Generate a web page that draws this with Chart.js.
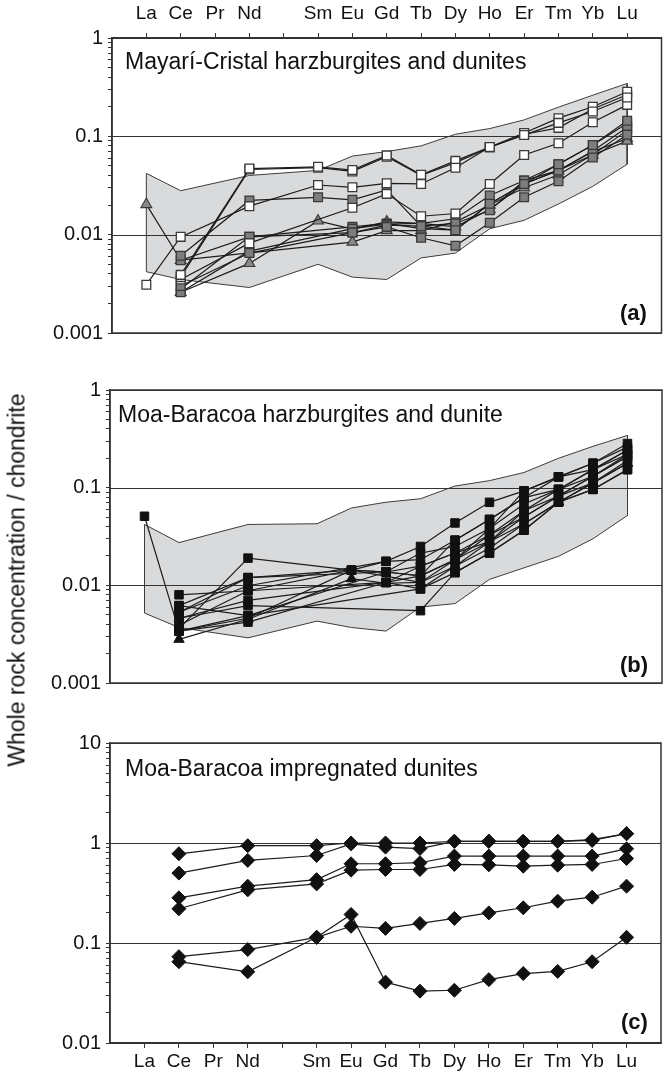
<!DOCTYPE html>
<html><head><meta charset="utf-8">
<script src="https://cdn.jsdelivr.net/npm/chart.js@4.4.1/dist/chart.umd.min.js"></script>
<style>
html,body{margin:0;padding:0;background:#fff;}
body{width:669px;height:1073px;position:relative;overflow:hidden;font-family:"Liberation Sans",Arial,sans-serif;color:#111;}
canvas{position:absolute;left:0;}
.ttl{position:absolute;font-size:23px;line-height:1;white-space:nowrap;}
.lab{position:absolute;font-size:22px;font-weight:bold;line-height:1;white-space:nowrap;}
#ytitle{position:absolute;left:17px;top:580px;font-size:23px;line-height:1;white-space:nowrap;transform:translate(-50%,-50%) rotate(-90deg);}
</style></head>
<body>
<canvas id="ca" width="669" height="350" style="top:0px"></canvas>
<canvas id="cb" width="669" height="330" style="top:370px"></canvas>
<canvas id="cc" width="669" height="353" style="top:720px"></canvas>
<div class="ttl" style="left:125px;top:50px">Mayarí-Cristal harzburgites and dunites</div>
<div class="ttl" style="left:118px;top:403px">Moa-Baracoa harzburgites and dunite</div>
<div class="ttl" style="left:125px;top:757px">Moa-Baracoa impregnated dunites</div>
<div class="lab" style="left:620px;top:302px">(a)</div>
<div class="lab" style="left:620px;top:654px">(b)</div>
<div class="lab" style="left:621px;top:1011px">(c)</div>
<div id="ytitle">Whole rock concentration / chondrite</div>
<script>
// ---- categories / tick labels ----
const ELEMENTS = ['La','Ce','Pr','Nd','Pm','Sm','Eu','Gd','Tb','Dy','Ho','Er','Tm','Yb','Lu'];
const X_TICK_LABELS = ['La','Ce','Pr','Nd','','Sm','Eu','Gd','Tb','Dy','Ho','Er','Tm','Yb','Lu'];
const Y_RANGE_AB = [0.001, 1];
const Y_RANGE_C = [0.01, 10];

// ---- panel (a) Mayarí-Cristal ----
const A_ENV_UPPER = [0.042,0.028,null,0.040,null,0.045,0.063,0.070,0.080,0.105,0.120,0.147,0.198,0.262,0.345];
const A_ENV_LOWER = [0.0042,0.0035,null,0.0029,null,0.0050,0.0037,0.0035,0.0058,0.0065,0.0115,0.0140,0.0205,0.031,0.052];
const A_WHITE_1 = [0.0031,0.0095,null,0.0195,null,0.032,0.0303,0.0333,0.0328,0.048,0.078,0.103,0.137,0.179,0.248];
const A_WHITE_2 = [null,0.0039,null,0.047,null,0.049,0.0454,0.064,0.0407,0.0563,0.078,0.108,0.153,0.200,0.284];
const A_WHITE_3 = [null,0.0037,null,0.046,null,0.048,0.044,0.062,0.040,0.054,0.077,0.105,0.122,0.190,0.265];
const A_WHITE_4 = [null,0.0035,null,0.0082,null,null,0.0188,0.026,0.0154,0.0164,0.0328,0.0646,0.085,0.139,0.209];
const A_GRAY_1 = [null,0.0061,null,0.0223,null,0.024,0.0226,0.0285,0.0122,0.0111,0.0206,0.0328,0.052,0.0816,0.144];
const A_GRAY_2 = [null,0.0055,null,0.0095,null,null,0.0105,0.012,0.0093,0.0077,0.0132,0.024,0.0349,0.0608,0.104];
const A_GRAY_3 = [null,0.0030,null,0.0065,null,null,0.0105,0.0125,0.0122,0.013,0.0177,0.0355,0.045,0.071,0.124];
const A_GRAY_4 = [null,0.0026,null,0.0068,null,null,0.0115,0.0128,0.013,0.0145,0.025,0.0355,0.052,0.0816,0.135];
const A_GRAY_5 = [null,0.0028,null,0.0095,null,null,0.012,0.013,0.0115,0.0111,0.0206,0.0328,0.045,0.065,0.115];
const A_TRI_1 = [0.0203,0.0055,null,null,null,null,0.0084,0.011,0.011,0.0135,0.020,0.030,0.0407,0.065,0.0895];
const A_TRI_2 = [null,0.0026,null,0.0051,null,0.0138,0.0114,0.0135,0.013,0.012,0.018,0.033,0.045,0.070,0.095];

// ---- panel (b) Moa-Baracoa ----
const B_ENV_UPPER = [0.042,0.0274,null,0.042,null,0.0427,0.062,0.071,0.077,0.104,0.118,0.143,0.200,0.265,0.343];
const B_ENV_LOWER = [0.0052,0.0037,null,0.0029,null,0.0043,0.0037,0.0034,0.0060,0.0065,0.0115,0.0151,0.0198,0.030,0.052];
const B_1 = [0.051,0.0034,null,0.0046,null,null,0.0143,0.0137,0.0157,0.0214,0.0327,0.050,0.082,0.131,0.208];
const B_2 = [null,0.008,null,0.0088,null,null,null,0.0107,0.0125,0.0183,0.028,0.050,0.082,0.131,0.220];
const B_3 = [null,0.0036,null,0.019,null,null,0.0143,0.0137,0.0125,0.0183,0.0327,0.058,0.096,0.131,0.208];
const B_4 = [null,0.0062,null,0.012,null,null,0.0143,0.0176,0.0183,0.029,0.0473,0.079,0.129,0.153,0.243];
const B_5 = [null,0.0053,null,0.0099,null,null,null,0.0176,0.025,0.0435,0.0708,0.0927,0.129,0.178,0.283];
const B_6 = [null,0.0046,null,0.007,null,null,null,0.0107,0.0092,0.0157,0.024,0.0428,0.071,0.112,0.178];
const B_7 = [null,0.0046,null,0.0062,null,null,null,null,0.0055,0.0135,0.0214,0.0367,0.071,0.096,0.153];
const B_8 = [null,0.0062,null,0.0049,null,null,null,0.0137,0.0214,0.025,0.0381,0.068,0.096,0.153,0.243];
const B_9 = [null,0.0034,null,0.0042,null,null,null,0.0107,0.0157,0.0214,0.028,0.058,0.082,0.112,0.190];
const B_10 = [null,0.0039,null,0.0088,null,null,0.0143,null,0.0107,0.0183,0.0381,0.0927,0.129,0.178,0.260];
const B_11 = [null,0.0053,null,0.012,null,null,null,0.0137,0.0125,0.029,0.0473,0.079,0.096,0.153,0.220];
const B_12 = [null,0.0034,null,0.0049,null,null,null,null,0.0092,0.0135,0.0214,0.0367,0.071,0.096,0.153];
const B_TRI = [null,0.0028,null,0.0045,null,null,0.0117,0.0105,0.0107,0.0157,0.028,0.0428,0.071,0.112,0.178];

// ---- panel (c) impregnated dunites ----
const C_1 = [null,0.78,null,0.94,null,0.94,1.00,1.00,1.00,1.04,1.04,1.04,1.04,1.08,1.24];
const C_2 = [null,0.50,null,0.67,null,0.75,0.98,0.91,0.88,1.04,1.04,1.04,1.04,1.06,1.24];
const C_3 = [null,0.283,null,0.37,null,0.43,0.62,0.62,0.635,0.74,0.74,0.74,0.74,0.74,0.875];
const C_4 = [null,0.22,null,0.34,null,0.39,0.535,0.543,0.543,0.61,0.605,0.586,0.60,0.61,0.70];
const C_5 = [null,0.073,null,0.086,null,0.114,0.147,0.14,0.157,0.176,0.20,0.225,0.262,0.287,0.37];
const C_6 = [null,0.065,null,0.0515,null,0.114,0.193,0.0406,0.033,0.0337,0.043,0.0495,0.052,0.065,0.114];

const FONT = '"Liberation Sans", Arial, sans-serif';
const INK = '#1c1c1c';

const STYLES = {
  white:   {shape:'rect', r:6.2, fill:'#ffffff', stroke:'#3a3a3a', bw:1.3},
  gray:    {shape:'rect', r:6.2, fill:'#7d7d7d', stroke:'#3a3a3a', bw:1.3},
  tri:     {shape:'triangle', r:6.2, fill:'#8a8a8a', stroke:'#3a3a3a', bw:1.2},
  black:   {shape:'rect', r:6.0, fill:'#111111', stroke:'#111111', bw:1},
  btri:    {shape:'triangle', r:6.0, fill:'#111111', stroke:'#111111', bw:1},
  diamond: {shape:'rectRot', r:7.0, fill:'#111111', stroke:'#111111', bw:1}
};

function pts(arr){ return arr.map((v,i)=> v==null ? null : {x:i+1, y:v}).filter(p=>p); }
function polygon(up, lo){ const u = pts(up), l = pts(lo).reverse(); return u.concat(l, [u[0]]); }
function isDecade(v){ const l = Math.log10(v); return Math.abs(l - Math.round(l)) < 1e-9; }
function logTicks(min, max){
  const out = [];
  for (let e = Math.round(Math.log10(min)); e <= Math.round(Math.log10(max)); e++){
    for (let m = 1; m <= 9; m++){
      const v = parseFloat((m * Math.pow(10, e)).toPrecision(6));
      if (v >= min - 1e-12 && v <= max + 1e-12) out.push(v);
    }
  }
  return out;
}
function series(arr, kind){
  const s = STYLES[kind];
  return {data: pts(arr), borderColor: INK, borderWidth: 1.2, tension: 0, fill: false,
    pointStyle: s.shape, pointRadius: s.r, pointHoverRadius: s.r,
    pointBackgroundColor: s.fill, pointBorderColor: s.stroke, pointBorderWidth: s.bw, order: 1};
}
function envelope(up, lo){
  return [
    {data: pts(up), borderWidth: 0, pointRadius: 0, fill: '+1', backgroundColor: '#d9dadc', order: 20},
    {data: pts(lo), borderWidth: 0, pointRadius: 0, fill: false, order: 20},
    {data: polygon(up, lo), borderColor: '#3c3c3c', borderWidth: 1, pointRadius: 0, fill: false, tension: 0, order: 19, envOutline: true}
  ];
}

// decade lines (drawn over the envelope, under the sample lines) and plot frame
function decadeLines(chart){
  const ctx = chart.ctx, a = chart.chartArea, y = chart.scales.y;
  ctx.save();
  ctx.strokeStyle = '#333'; ctx.lineWidth = 1.1;
  y.ticks.forEach(t => {
    if (!isDecade(t.value)) return;
    const py = Math.round(y.getPixelForValue(t.value)) + 0.5;
    ctx.beginPath(); ctx.moveTo(a.left, py); ctx.lineTo(a.right, py); ctx.stroke();
  });
  ctx.restore();
}
const overPlugin = {
  id: 'over',
  beforeDatasetsDraw(chart){
    if (!chart.data.datasets.some(d => d.envOutline)) decadeLines(chart);
  },
  afterDatasetDraw(chart, args){
    if (chart.data.datasets[args.index].envOutline) decadeLines(chart);
  },
  afterDraw(chart){
    const ctx = chart.ctx, a = chart.chartArea;
    ctx.save(); ctx.strokeStyle = '#333'; ctx.lineWidth = 1.5;
    ctx.strokeRect(a.left, a.top, a.right - a.left, a.bottom - a.top);
    ctx.restore();
  }
};

function makeChart(id, datasets, cfg){
  return new Chart(document.getElementById(id), {
    type: 'line',
    data: {datasets},
    options: {
      responsive: false, animation: false, devicePixelRatio: 1,
      layout: {padding: cfg.padding},
      plugins: {legend: {display: false}, tooltip: {enabled: false}},
      scales: {
        x: {type: 'linear', position: cfg.xPos, min: 0, max: 16, display: cfg.xDisplay,
          afterBuildTicks: s => { s.ticks = ELEMENTS.map((e, i) => ({value: i + 1})); },
          afterFit: s => { s.height = cfg.xHeight; },
          ticks: {autoSkip: false, maxRotation: 0, padding: cfg.xPad, color: '#111',
            font: {family: FONT, size: 19}, callback: v => X_TICK_LABELS[v - 1] ?? ''},
          grid: {drawOnChartArea: false, drawTicks: true, tickLength: 5, color: '#333', tickColor: '#333'},
          border: {display: true, color: '#333', width: 1.5}
        },
        y: {type: 'logarithmic', min: cfg.yRange[0], max: cfg.yRange[1],
          afterBuildTicks: s => { s.ticks = logTicks(cfg.yRange[0], cfg.yRange[1]).map(v => ({value: v})); },
          afterFit: s => { s.width = cfg.left; },
          ticks: {autoSkip: false, padding: 5, color: '#111', font: {family: FONT, size: 20},
            callback: v => isDecade(v) ? String(v) : ''},
          grid: {color: 'rgba(0,0,0,0)', tickColor: '#333', tickLength: 4, lineWidth: 1},
          border: {display: true, color: '#333', width: 1.5}
        }
      }
    },
    plugins: [overPlugin]
  });
}

makeChart('ca', [
  series(A_WHITE_1, 'white'), series(A_WHITE_2, 'white'), series(A_WHITE_3, 'white'), series(A_WHITE_4, 'white'),
  series(A_GRAY_1, 'gray'), series(A_GRAY_2, 'gray'), series(A_GRAY_3, 'gray'), series(A_GRAY_4, 'gray'), series(A_GRAY_5, 'gray'),
  series(A_TRI_1, 'tri'), series(A_TRI_2, 'tri'),
  ...envelope(A_ENV_UPPER, A_ENV_LOWER)
], {padding: {top: 0, right: 6, bottom: 12, left: 0}, xPos: 'top', xDisplay: true, xHeight: 38, xPad: 8, left: 112, yRange: Y_RANGE_AB});

makeChart('cb', [
  series(B_1, 'black'), series(B_2, 'black'), series(B_3, 'black'), series(B_4, 'black'),
  series(B_5, 'black'), series(B_6, 'black'), series(B_7, 'black'), series(B_8, 'black'),
  series(B_9, 'black'), series(B_10, 'black'), series(B_11, 'black'), series(B_12, 'black'),
  series(B_TRI, 'btri'),
  ...envelope(B_ENV_UPPER, B_ENV_LOWER)
], {padding: {top: 20, right: 6, bottom: 11, left: 0}, xPos: 'bottom', xDisplay: false, xHeight: 0, xPad: 0, left: 110, yRange: Y_RANGE_AB});

makeChart('cc', [
  series(C_1, 'diamond'), series(C_2, 'diamond'), series(C_3, 'diamond'),
  series(C_4, 'diamond'), series(C_5, 'diamond'), series(C_6, 'diamond')
], {padding: {top: 23, right: 6, bottom: 0, left: 0}, xPos: 'bottom', xDisplay: true, xHeight: 30, xPad: 2, left: 110, yRange: Y_RANGE_C});
</script>
</body></html>
